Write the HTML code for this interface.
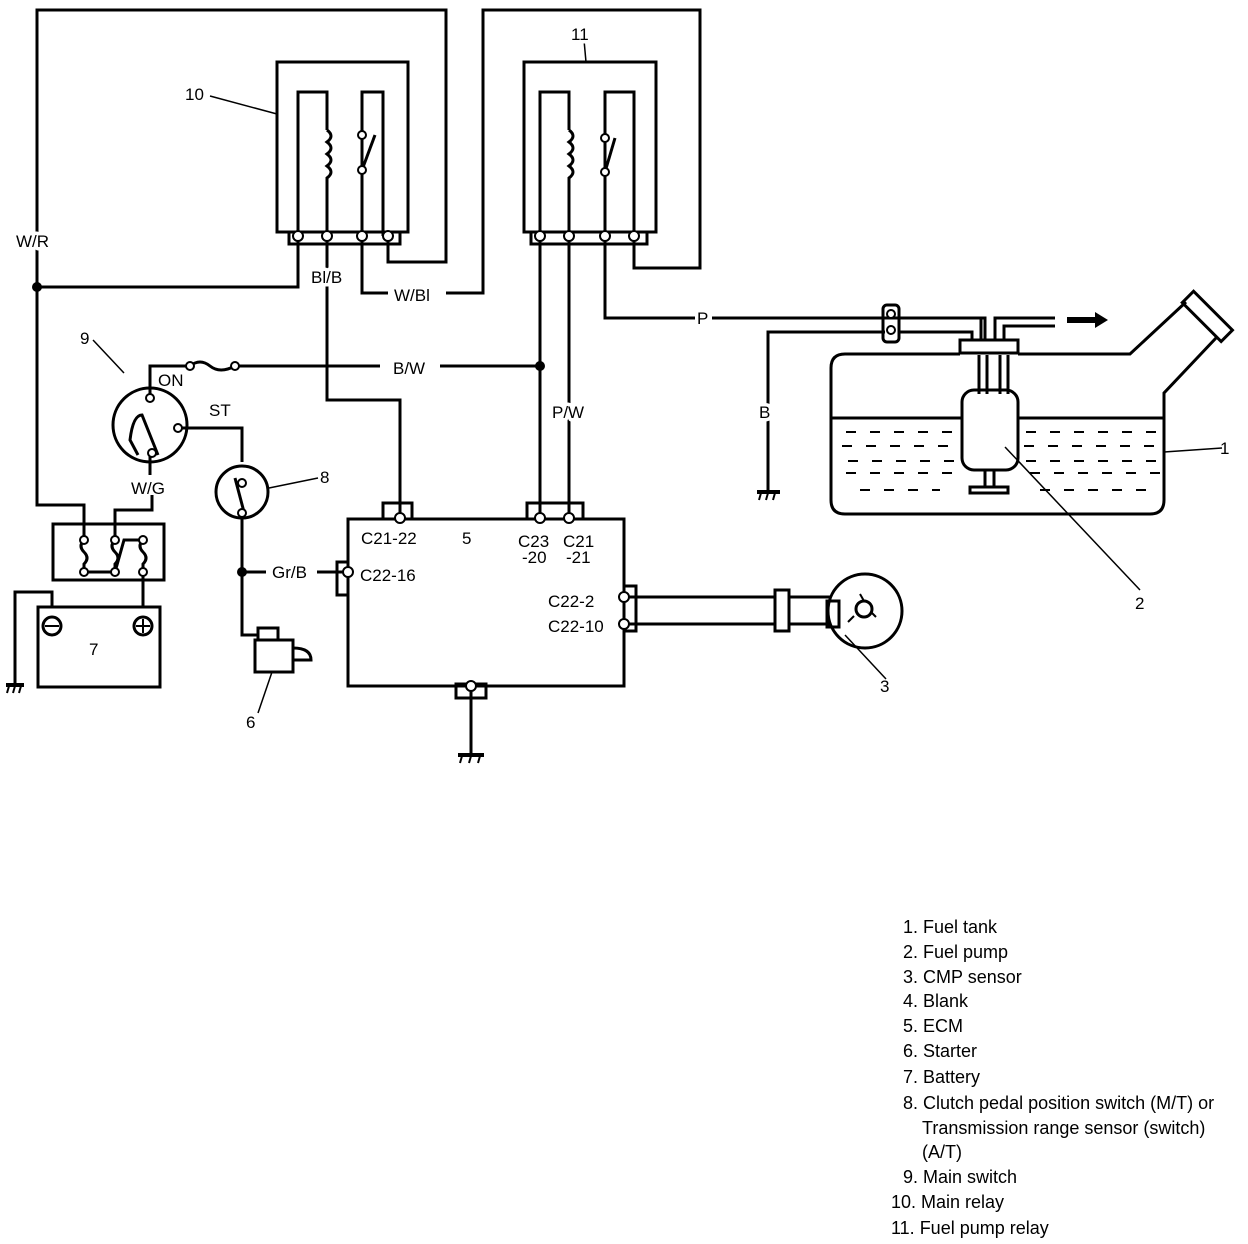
<!DOCTYPE html>
<html><head><meta charset="utf-8"><style>
html,body{margin:0;padding:0;background:#fff}
svg{display:block}
text{font-family:"Liberation Sans",Arial,sans-serif;fill:#000}
.bg{stroke:#fff;stroke-width:7px;paint-order:stroke;stroke-linejoin:round}
</style></head><body>
<svg width="1248" height="1244" viewBox="0 0 1248 1244" xmlns="http://www.w3.org/2000/svg">
<g fill="none" stroke="#000" stroke-width="3" stroke-linejoin="miter">
<polyline points="388,236 388,262 446,262 446,10 37,10 37,505 84,505 84,540"/>
<rect x="277" y="62" width="131" height="170"/>
<polyline points="298,236 298,92 327,92 327,130"/>
<path d="M327,130 q8,6 0,12 q8,6 0,12 q8,6 0,12 q8,6 0,12 L327,236"/>
<polyline points="362,236 362,92 383,92 383,236"/>
<line x1="362" y1="170" x2="375" y2="135"/>
<rect x="289" y="232" width="111" height="12"/>
<polyline points="298,236 298,287 37,287"/>
<polyline points="327,236 327,400 400,400 400,515"/>
<polyline points="362,236 362,293 388,293"/>
<polyline points="446,293 483,293 483,10 700,10 700,268 634,268 634,236"/>
<rect x="524" y="62" width="132" height="170"/>
<polyline points="540,236 540,92 569,92 569,130"/>
<path d="M569,130 q8,6 0,12 q8,6 0,12 q8,6 0,12 q8,6 0,12 L569,236"/>
<polyline points="605,236 605,92 634,92 634,236"/>
<line x1="605" y1="172" x2="615" y2="138"/>
<rect x="531" y="232" width="116" height="12"/>
<line x1="584" y1="40" x2="586" y2="62" stroke-width="1.5"/>
<line x1="210" y1="96" x2="277" y2="114" stroke-width="1.5"/>
<line x1="540" y1="236" x2="540" y2="518"/>
<line x1="569" y1="236" x2="569" y2="518"/>
<polyline points="605,236 605,318 695,318"/>
<polyline points="712,318 985,318 985,340"/>
<polyline points="150,397 150,366 190,366"/>
<path d="M190,366 q10,-8 20,0 q10,8 25,0"/>
<polyline points="235,366 380,366"/>
<polyline points="440,366 540,366"/>
<circle cx="150" cy="425" r="37"/>
<path d="M138,455 L130,440 q3,-25 12,-25 L158,455"/>
<polyline points="178,428 242,428 242,462"/>
<line x1="150" y1="455" x2="150" y2="475"/>
<polyline points="152,495 152,510 115,510 115,540"/>
<line x1="124" y1="373" x2="93" y2="340" stroke-width="1.5"/>
<circle cx="242" cy="492" r="26"/>
<line x1="235" y1="478" x2="244" y2="512"/>
<polyline points="242,514 242,635 258,635"/>
<line x1="269" y1="488" x2="318" y2="478" stroke-width="1.5"/>
<line x1="242" y1="572" x2="266" y2="572"/>
<line x1="317" y1="572" x2="345" y2="572"/>
<rect x="258" y="628" width="20" height="12"/>
<rect x="255" y="640" width="38" height="32"/>
<path d="M293,648 q18,0 18,12 L293,660"/>
<line x1="272" y1="672" x2="258" y2="713" stroke-width="1.5"/>
<rect x="53" y="524" width="111" height="56"/>
<path d="M84,540 q-6,6 0,12 q6,6 0,12 L84,572 L115,572 M115,540 q-6,6 0,12 q6,6 0,12 L115,572 M115,572 L124,540 L143,540 M143,540 q-6,6 0,12 q6,6 0,12 L143,575"/>
<line x1="143" y1="575" x2="143" y2="607"/>
<rect x="38" y="607" width="122" height="80"/>
<polyline points="52,607 52,592 15,592 15,685"/>
<circle cx="52" cy="626" r="9"/>
<circle cx="143" cy="626" r="9"/>
<rect x="348" y="519" width="276" height="167"/>
<rect x="383" y="503" width="29" height="16"/>
<rect x="527" y="503" width="56" height="16"/>
<rect x="337" y="562" width="11" height="33"/>
<rect x="624" y="586" width="12" height="45"/>
<rect x="456" y="684" width="30" height="14"/>
<line x1="471" y1="686" x2="471" y2="755"/>
<line x1="624" y1="597" x2="775" y2="597"/>
<line x1="624" y1="624" x2="775" y2="624"/>
<line x1="790" y1="597" x2="830" y2="597"/>
<line x1="790" y1="624" x2="830" y2="624"/>
<rect x="775" y="590" width="14" height="41"/>
<circle cx="865" cy="611" r="37"/>
<rect x="827" y="601" width="12" height="26"/>
<circle cx="864" cy="609" r="8"/>
<line x1="845" y1="635" x2="886" y2="679" stroke-width="1.5"/>
<polyline points="885,332 768,332 768,492"/>
<rect x="883" y="305" width="16" height="37" rx="4"/>
<polyline points="899,318 981,318 981,340"/>
<polyline points="899,332 972,332 972,340"/>
<polyline points="995,340 995,318 1055,318"/>
<polyline points="1004,340 1004,326 1055,326"/>
<rect x="960" y="340" width="58" height="13"/>
<path d="M960,354 L845,354 q-14,0 -14,14 L831,500 q0,14 14,14 L1150,514 q14,0 14,-14 L1164,393 L1216,338 M1018,354 L1130,354 L1186,302"/>
<rect x="1180" y="308" width="55" height="16" transform="rotate(45 1207 316)"/>
<line x1="831" y1="418" x2="962" y2="418"/>
<line x1="1018" y1="418" x2="1164" y2="418"/>
<rect x="962" y="390" width="56" height="80" rx="12"/>
<line x1="979" y1="355" x2="979" y2="394"/><line x1="987" y1="355" x2="987" y2="394"/>
<line x1="1000" y1="355" x2="1000" y2="394"/><line x1="1008" y1="355" x2="1008" y2="394"/>
<line x1="985" y1="470" x2="985" y2="487"/><line x1="994" y1="470" x2="994" y2="487"/>
<rect x="970" y="487" width="38" height="6"/>
<line x1="1164" y1="452" x2="1222" y2="448" stroke-width="1.5"/>
<line x1="1005" y1="447" x2="1140" y2="590" stroke-width="1.5"/>
</g>
<g stroke="#000" stroke-width="2" stroke-dasharray="10,14">
<line x1="846" y1="432" x2="960" y2="432"/><line x1="1026" y1="432" x2="1160" y2="432"/>
<line x1="842" y1="446" x2="960" y2="446"/><line x1="1024" y1="446" x2="1160" y2="446"/>
<line x1="848" y1="461" x2="960" y2="461"/><line x1="1026" y1="461" x2="1160" y2="461"/>
<line x1="846" y1="473" x2="960" y2="473"/><line x1="1030" y1="473" x2="1160" y2="473"/>
<line x1="860" y1="490" x2="940" y2="490"/><line x1="1040" y1="490" x2="1150" y2="490"/>
</g>
<path d="M1067,317 L1095,317 L1095,312 L1108,320 L1095,328 L1095,323 L1067,323 Z" fill="#000"/>
<g fill="#fff" stroke="#000" stroke-width="2">
<circle cx="298" cy="236" r="5"/><circle cx="327" cy="236" r="5"/><circle cx="362" cy="236" r="5"/><circle cx="388" cy="236" r="5"/>
<circle cx="540" cy="236" r="5"/><circle cx="569" cy="236" r="5"/><circle cx="605" cy="236" r="5"/><circle cx="634" cy="236" r="5"/>
<circle cx="362" cy="170" r="4"/><circle cx="362" cy="135" r="4"/>
<circle cx="605" cy="172" r="4"/><circle cx="605" cy="138" r="4"/>
<circle cx="150" cy="398" r="4"/><circle cx="178" cy="428" r="4"/><circle cx="152" cy="453" r="4"/>
<circle cx="242" cy="483" r="4"/><circle cx="242" cy="513" r="4"/>
<circle cx="190" cy="366" r="4"/><circle cx="235" cy="366" r="4"/>
<circle cx="84" cy="540" r="4"/><circle cx="115" cy="540" r="4"/><circle cx="143" cy="540" r="4"/>
<circle cx="84" cy="572" r="4"/><circle cx="115" cy="572" r="4"/><circle cx="143" cy="572" r="4"/>
<circle cx="400" cy="518" r="5"/><circle cx="540" cy="518" r="5"/><circle cx="569" cy="518" r="5"/>
<circle cx="348" cy="572" r="5"/><circle cx="624" cy="597" r="5"/><circle cx="624" cy="624" r="5"/>
<circle cx="471" cy="686" r="5"/><circle cx="891" cy="314" r="4"/><circle cx="891" cy="330" r="4"/>
</g>
<g fill="#000">
<circle cx="37" cy="287" r="5"/><circle cx="540" cy="366" r="5"/><circle cx="242" cy="572" r="5"/>
</g>
<g stroke="#000" stroke-width="2">
<line x1="45" y1="626" x2="59" y2="626"/><line x1="136" y1="626" x2="150" y2="626"/><line x1="143" y1="619" x2="143" y2="633"/>
<line x1="6" y1="685" x2="24" y2="685" stroke-width="4"/><line x1="9" y1="686" x2="7" y2="693"/><line x1="15" y1="686" x2="13" y2="693"/><line x1="21" y1="686" x2="19" y2="693"/>
<line x1="458" y1="755" x2="484" y2="755" stroke-width="4"/><line x1="462" y1="756" x2="460" y2="763"/><line x1="471" y1="756" x2="469" y2="763"/><line x1="480" y1="756" x2="478" y2="763"/>
<line x1="757" y1="492" x2="780" y2="492" stroke-width="4"/><line x1="761" y1="493" x2="759" y2="500"/><line x1="768" y1="493" x2="766" y2="500"/><line x1="775" y1="493" x2="773" y2="500"/>
<line x1="860" y1="594" x2="864" y2="601"/><line x1="854" y1="616" x2="848" y2="622"/><line x1="872" y1="613" x2="876" y2="617"/>
</g>
<g font-size="17">
<text class="bg" x="16" y="247">W/R</text>
<text x="185" y="100">10</text>
<text class="bg" x="571" y="40">11</text>
<text class="bg" x="311" y="283">Bl/B</text>
<text x="394" y="301">W/Bl</text>
<text x="697" y="324">P</text>
<text x="393" y="374">B/W</text>
<text class="bg" x="552" y="418">P/W</text>
<text x="80" y="344">9</text>
<text x="158" y="386">ON</text>
<text x="209" y="416">ST</text>
<text x="131" y="494">W/G</text>
<text x="320" y="483">8</text>
<text x="272" y="578">Gr/B</text>
<text x="246" y="728">6</text>
<text x="89" y="655">7</text>
<text x="361" y="544">C21-22</text>
<text x="462" y="544">5</text>
<text x="518" y="547">C23</text><text x="563" y="547">C21</text>
<text x="522" y="563">-20</text><text x="566" y="563">-21</text>
<text x="360" y="581">C22-16</text>
<text x="548" y="607">C22-2</text>
<text x="548" y="632">C22-10</text>
<text class="bg" x="759" y="418">B</text>
<text x="1220" y="454">1</text>
<text x="1135" y="609">2</text>
<text x="880" y="692">3</text>
</g>
<g font-size="18">
<text x="903" y="933">1. Fuel tank</text>
<text x="903" y="958">2. Fuel pump</text>
<text x="903" y="983">3. CMP sensor</text>
<text x="903" y="1007">4. Blank</text>
<text x="903" y="1032">5. ECM</text>
<text x="903" y="1057">6. Starter</text>
<text x="903" y="1083">7. Battery</text>
<text x="903" y="1109">8. Clutch pedal position switch (M/T) or</text>
<text x="922" y="1134">Transmission range sensor (switch)</text>
<text x="922" y="1158">(A/T)</text>
<text x="903" y="1183">9. Main switch</text>
<text x="891" y="1208">10. Main relay</text>
<text x="891" y="1234">11. Fuel pump relay</text>
</g>
</svg>
</body></html>
